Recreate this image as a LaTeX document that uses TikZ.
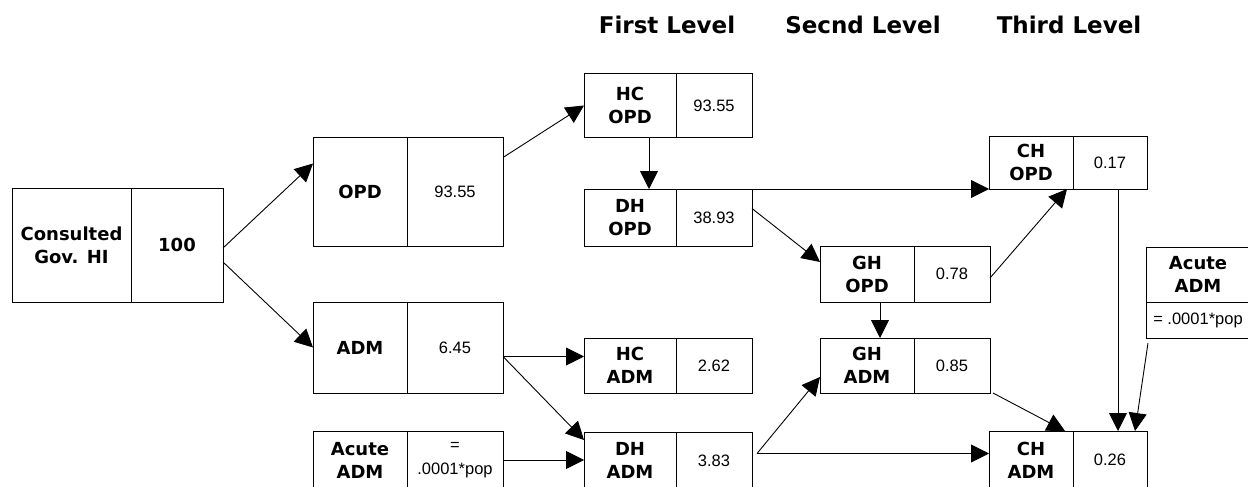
\documentclass[tikz,border=0pt]{standalone}
\usepackage{fontspec}
\newfontfamily\boxfont{DejaVu Sans}
\newfontfamily\numfont{Liberation Sans}
\usetikzlibrary{arrows.meta,positioning}
\tikzset{
  lab/.style={draw, line width=1pt, inner sep=0pt, outer sep=0pt, align=center, anchor=north west,
    font=\boxfont\bfseries\fontsize{18}{23}\selectfont},
  val/.style={draw, line width=1pt, inner sep=0pt, outer sep=0pt, align=center,
    font=\numfont\fontsize{16.5}{24}\selectfont},
  boldval/.style={val, font=\boxfont\bfseries\fontsize{18}{23}\selectfont},
  head/.style={font=\boxfont\bfseries\fontsize{23}{27}\selectfont},
  arrow/.style={-{Triangle[length=18pt,width=18pt]}, line width=0.9pt},
}
\begin{document}
\begin{tikzpicture}[x=1pt, y=-1pt]
\useasboundingbox (0,0) rectangle (1248,487);

\node[head] (lvl1) at (667,25) {First Level};
\node[head] (lvl2) at (863,25) {Secnd Level};
\node[head] (lvl3) at (1069,25) {Third Level};

\node[lab, minimum width=119pt, minimum height=114pt] (clab) at (12,188) {Consulted\\Gov. HI};
\node[boldval, minimum width=92pt, minimum height=114pt, right=0pt of clab] (cval) {100};

\node[lab, minimum width=94pt, minimum height=109pt] (opdlab) at (313,137) {OPD};
\node[val, minimum width=96pt, minimum height=109pt, right=0pt of opdlab] (opdval) {93.55};
\node[lab, minimum width=94pt, minimum height=91pt] (admlab) at (313,302) {ADM};
\node[val, minimum width=96pt, minimum height=91pt, right=0pt of admlab] (admval) {6.45};
\node[lab, minimum width=94pt, minimum height=58pt] (acutelab) at (313,431) {Acute\\ADM};
\node[val, minimum width=96pt, minimum height=58pt, right=0pt of acutelab] (acuteval) {=\\.0001*pop};

\node[lab, minimum width=92pt, minimum height=63pt] (hcopdlab) at (584,74) {HC\\OPD};
\node[val, minimum width=76pt, minimum height=63pt, right=0pt of hcopdlab] (hcopdval) {93.55};
\node[lab, minimum width=92pt, minimum height=57pt] (dhopdlab) at (584,189) {DH\\OPD};
\node[val, minimum width=76pt, minimum height=57pt, right=0pt of dhopdlab] (dhopdval) {38.93};
\node[lab, minimum width=92pt, minimum height=55pt] (hcadmlab) at (584,338) {HC\\ADM};
\node[val, minimum width=76pt, minimum height=55pt, right=0pt of hcadmlab] (hcadmval) {2.62};
\node[lab, minimum width=92pt, minimum height=57pt] (dhadmlab) at (584,432) {DH\\ADM};
\node[val, minimum width=76pt, minimum height=57pt, right=0pt of dhadmlab] (dhadmval) {3.83};

\node[lab, minimum width=94pt, minimum height=56pt] (ghopdlab) at (820,246) {GH\\OPD};
\node[val, minimum width=76pt, minimum height=56pt, right=0pt of ghopdlab] (ghopdval) {0.78};
\node[lab, minimum width=94pt, minimum height=55pt] (ghadmlab) at (820,338) {GH\\ADM};
\node[val, minimum width=76pt, minimum height=55pt, right=0pt of ghadmlab] (ghadmval) {0.85};

\node[lab, minimum width=84pt, minimum height=53pt] (chopdlab) at (989,136) {CH\\OPD};
\node[val, minimum width=74pt, minimum height=53pt, right=0pt of chopdlab] (chopdval) {0.17};
\node[lab, minimum width=84pt, minimum height=58pt] (chadmlab) at (989,431) {CH\\ADM};
\node[val, minimum width=74pt, minimum height=58pt, right=0pt of chadmlab] (chadmval) {0.26};

\node[lab, minimum width=104pt, minimum height=55pt] (acutetop) at (1146,247) {Acute\\ADM};
\node[val, minimum width=104pt, minimum height=36pt, below=0pt of acutetop] (acutebot) {= .0001*pop};

\draw[arrow] ([yshift=-3pt]cval.east) -- ([yshift=28pt]opdlab.west);
\draw[arrow] ([yshift=-17pt]cval.east) -- (admlab.west);
\draw[arrow] ([yshift=34pt]opdval.east) -- (hcopdlab.west);
\draw[arrow] ([xshift=19pt]hcopdlab.south) -- ([xshift=19pt]dhopdlab.north);
\draw[arrow] (dhopdval.north east) -- (chopdlab.south west);
\draw[arrow] ([yshift=9pt]dhopdval.east) -- ([yshift=12pt]ghopdlab.west);
\draw[arrow] ([yshift=-4pt]ghopdval.east) -- ([xshift=-6pt]chopdlab.south east);
\draw[arrow] ([xshift=13pt]ghopdlab.south) -- ([xshift=13pt]ghadmlab.north);
\coordinate (admout) at ([yshift=-9pt]admval.east);
\draw[arrow] (admout) -- (admout -| hcadmlab.west);
\draw[arrow] (admout) -- ([yshift=-8pt]dhadmlab.north west);
\draw[arrow] (acuteval.east) -- (acuteval.east -| dhadmlab.west);
\coordinate (dhout) at ([xshift=5pt,yshift=7pt]dhadmval.east);
\draw[arrow] (dhout) -- ([yshift=16pt]ghadmlab.south west);
\draw[arrow] (dhout) -- (dhout -| chadmlab.west);
\draw[arrow] ([xshift=3pt]ghadmval.south east) -- ([xshift=-8pt]chadmlab.north east);
\draw[arrow] ([xshift=8pt]chopdval.south) -- ([xshift=8pt]chadmval.north);
\draw[arrow] ([xshift=2pt,yshift=-5pt]acutebot.south west) -- ([xshift=25pt]chadmval.north);
\end{tikzpicture}
\end{document}
